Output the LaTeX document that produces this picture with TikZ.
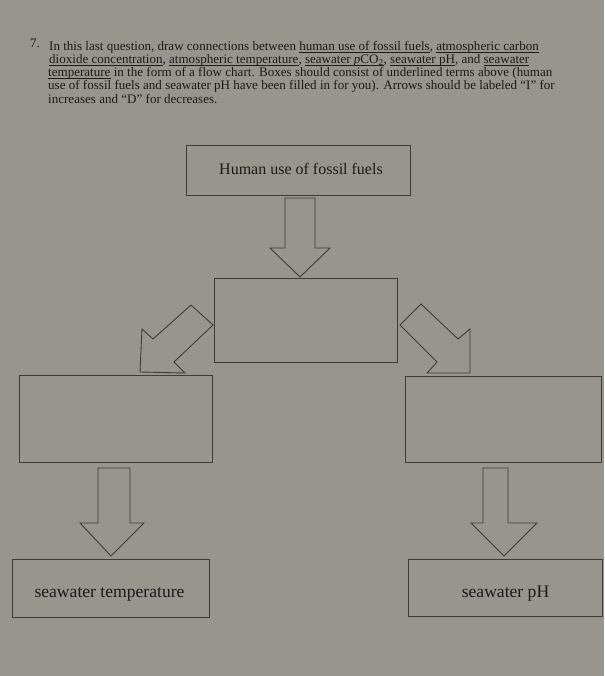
\documentclass[tikz,border=0pt]{standalone}
\usepackage{fontspec}
\setmainfont{Liberation Serif}
\definecolor{paper}{RGB}{152,149,142}
\definecolor{ink}{RGB}{62,60,58}
\definecolor{txt}{RGB}{28,26,26}
\newcommand\ulterm[1]{\leavevmode\setbox0\hbox{#1}\rlap{\rule[-1.8pt]{\wd0}{0.6pt}}\box0}
\tikzset{
  box/.style={draw=ink, line width=0.9pt, inner sep=0pt, anchor=north west},
  blockarrow/.style={draw=ink, line width=0.9pt, line join=miter},
  hdr/.style={anchor=base west, inner sep=0pt, text=txt, font=\fontsize{13.05}{13}\selectfont},
  boxtext/.style={text=txt, anchor=base, inner sep=0pt},
  bigtext/.style={boxtext, font=\fontsize{16}{18}\selectfont},
  hugetext/.style={boxtext, font=\fontsize{17.6}{19}\selectfont}
}
\begin{document}
\begin{tikzpicture}[x=1pt,y=-1pt]
\fill[paper] (0,0) rectangle (604,676);
\useasboundingbox (0,0) rectangle (604,676);
% header
\node[hdr] (num) at (30,48) {7.};
\node[hdr] (l1) at (49,51) {In this last question, draw connections between \ulterm{human use of fossil fuels}, \ulterm{atmospheric carbon}};
\node[hdr] (l2) at (49,64) {\ulterm{dioxide concentration}, \ulterm{atmospheric temperature}, \ulterm{seawater \textit{p}CO\textsubscript{2}}, \ulterm{seawater pH}, and \ulterm{seawater}};
\node[hdr] (l3) at (48,77) {\ulterm{temperature}\ in the form of a flow chart. Boxes should consist of underlined terms above (human};
\node[hdr] (l4) at (48,90) {use of fossil fuels and seawater pH have been filled in for you). Arrows should be labeled ``I'' for};
\node[hdr] (l5) at (48,104) {increases and ``D'' for decreases.};
% boxes
\node[box, minimum width=224pt, minimum height=50pt] (top) at (186,145) {};
\node[bigtext] (toptext) at (301,175) {Human use of fossil fuels};
\node[box, minimum width=183pt, minimum height=84pt] (mid) at (214,278) {};
\node[box, minimum width=193pt, minimum height=87pt] (left) at (19,375) {};
\node[box, minimum width=196pt, minimum height=86pt] (right) at (405,376) {};
\node[box, minimum width=197pt, minimum height=58pt] (bl) at (12,559) {};
\node[hugetext] (bltext) at (109.5,597) {seawater temperature};
\node[box, minimum width=194pt, minimum height=57pt] (br) at (408,559) {};
\node[hugetext] (brtext) at (505.5,597) {seawater pH};
% block arrows
\draw[blockarrow] (285,198) -- (315,198) -- (315,248) -- (330,248) -- (300,277) -- (270,248) -- (285,248) -- cycle;
\draw[blockarrow] (140,372) -- (142,329) -- (153,339) -- (191,305) -- (213,325) -- (174,362) -- (185,373) -- cycle;
\draw[blockarrow] (470,373) -- (470,329) -- (458,339) -- (421,304) -- (400,325) -- (437,362) -- (427,373) -- cycle;
\draw[blockarrow] (98,468) -- (130,468) -- (130,523) -- (144,523) -- (111,556) -- (80,523) -- (98,523) -- cycle;
\draw[blockarrow] (483,468) -- (508,468) -- (508,523) -- (537,523) -- (504,556) -- (471,523) -- (483,523) -- cycle;
\end{tikzpicture}
\end{document}
